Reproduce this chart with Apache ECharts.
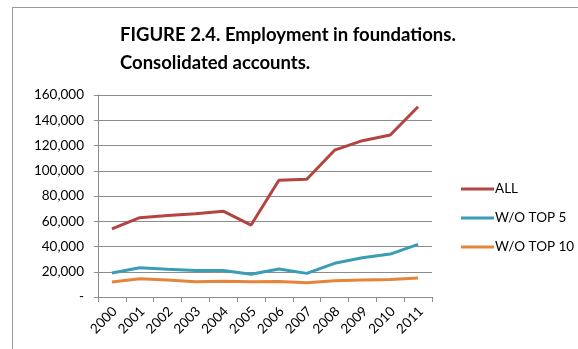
<!DOCTYPE html>
<html>
<head>
<meta charset="utf-8">
<script src="https://cdn.jsdelivr.net/npm/echarts@6/dist/echarts.min.js"></script>
<style>
  html, body { margin: 0; padding: 0; background: #ffffff; }
  #chart { width: 578px; height: 349px; }
</style>
</head>
<body>
<div id="chart"></div>
<script>
// Employment in foundations, consolidated accounts (2000–2011)
const years = ['2000', '2001', '2002', '2003', '2004', '2005', '2006', '2007', '2008', '2009', '2010', '2011'];
const allFoundations = [54000, 62800, 64500, 66000, 68000, 57000, 92500, 93300, 116300, 123800, 128300, 150700];
const withoutTop5 = [19000, 23200, 22000, 21000, 21000, 18000, 22200, 18700, 26700, 31100, 34000, 41700];
const withoutTop10 = [11900, 14500, 13500, 12100, 12500, 12000, 12200, 11300, 12900, 13500, 13800, 15000];
const seriesNames = ['ALL', 'W/O TOP 5', 'W/O TOP 10'];
const yTicks = { min: 0, max: 160000, step: 20000 };

const FONT = 'Lato';
const axisGrey = '#8c8c8c';

const chart = echarts.init(document.getElementById('chart'), null, { renderer: 'canvas' });

function lineSeries(name, data, color) {
  return {
    name: name,
    type: 'line',
    data: data,
    symbol: 'none',
    smooth: false,
    lineStyle: { width: 3, color: color },
    itemStyle: { color: color }
  };
}

chart.setOption({
  animation: false,
  backgroundColor: '#ffffff',
  title: {
    text: 'FIGURE 2.4. Employment in foundations.\nConsolidated accounts.',
    left: 115,
    top: 16,
    textStyle: {
      fontFamily: FONT,
      fontWeight: 'bold',
      fontSize: 18.5,
      lineHeight: 28,
      color: '#000000'
    }
  },
  legend: {
    orient: 'vertical',
    left: 456,
    top: 177,
    itemWidth: 33,
    itemHeight: 3,
    itemGap: 15,
    icon: 'rect',
    textStyle: { fontFamily: FONT, fontSize: 13.5, color: '#000000', padding: [0, 0, 0, -4] },
    data: seriesNames
  },
  grid: { left: 98, right: 146, top: 95, bottom: 52, containLabel: false },
  xAxis: {
    type: 'category',
    data: years,
    boundaryGap: true,
    axisLine: { show: true, lineStyle: { color: axisGrey, width: 1 } },
    axisTick: { show: true, alignWithLabel: false, length: 5, lineStyle: { color: axisGrey } },
    axisLabel: {
      interval: 0,
      rotate: 45,
      margin: 15,
      padding: [0, -4, 0, 0],
      fontFamily: FONT,
      fontSize: 13.5,
      color: '#000000'
    },
    splitLine: { show: false }
  },
  yAxis: {
    type: 'value',
    min: yTicks.min,
    max: yTicks.max,
    interval: yTicks.step,
    axisLine: { show: true, lineStyle: { color: axisGrey, width: 1 } },
    axisTick: { show: true, length: 4, lineStyle: { color: axisGrey } },
    axisLabel: {
      margin: 14,
      fontFamily: FONT,
      fontSize: 13.5,
      color: '#000000',
      formatter: function (v) { return v === 0 ? '-' : v.toLocaleString('en-US'); }
    },
    splitLine: { show: true, lineStyle: { color: axisGrey, width: 1 } }
  },
  graphic: [
    { type: 'line', shape: { x1: 12, y1: 7.5, x2: 578, y2: 7.5 }, style: { stroke: '#9a9a9a', lineWidth: 1 } },
    { type: 'line', shape: { x1: 12.5, y1: 7, x2: 12.5, y2: 349 }, style: { stroke: '#9a9a9a', lineWidth: 1 } }
  ],
  series: [
    lineSeries(seriesNames[0], allFoundations, '#b4443f'),
    lineSeries(seriesNames[1], withoutTop5, '#3b9cb5'),
    lineSeries(seriesNames[2], withoutTop10, '#e5853a')
  ]
});
</script>
</body>
</html>
